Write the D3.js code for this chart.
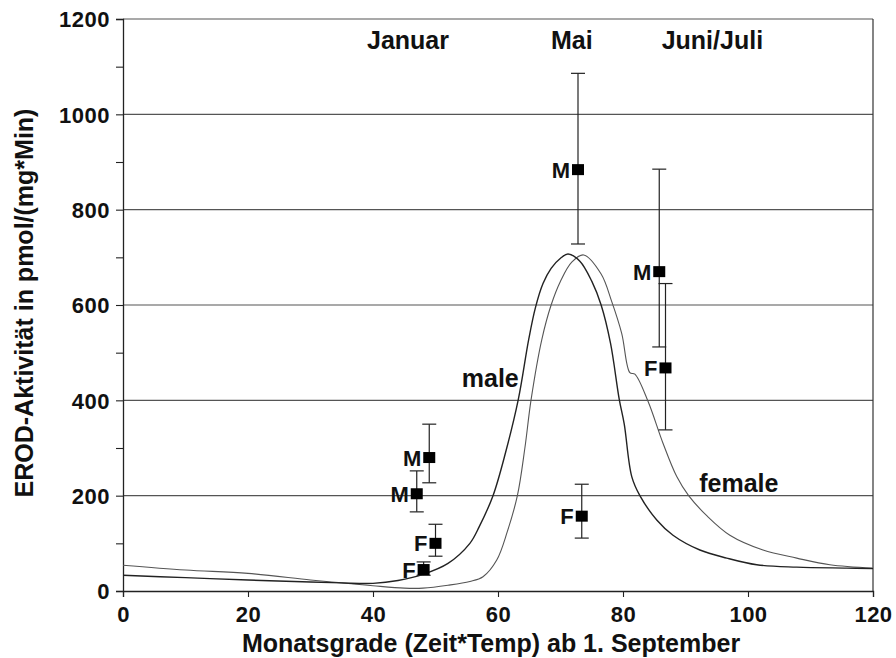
<!DOCTYPE html>
<html>
<head>
<meta charset="utf-8">
<script src="https://cdn.jsdelivr.net/npm/d3@7"></script>
<style>
body { margin: 0; background: #fff; }
text { font-family: "Liberation Sans", Arial, sans-serif; font-weight: bold; fill: #111; }
</style>
</head>
<body>
<svg id="chart" width="896" height="658"></svg>
<script>
// fitted curves
let maleX = [0, 10, 20, 30, 35, 40, 44, 48, 52, 55.5, 57, 59.2, 61.2, 63.25, 64.9, 66, 67.2, 68.5, 70, 71.2, 73.1, 75, 76.5, 78, 79.4, 80.2, 81.4, 82.7, 85.4, 88, 92.3, 96.6, 101.4, 107.8, 115.8, 120];
let maleY = [33, 28, 23, 19, 17, 16, 22, 35, 58, 100, 135, 200, 290, 402, 527, 595, 645, 677, 698, 707, 692, 650, 600, 520, 402, 350, 240, 200, 149, 117, 86, 69, 55, 50, 48, 47];
let femaleX = [0, 10, 20, 30, 35, 40, 45, 48, 52, 55.5, 57.6, 59.8, 61.5, 63.1, 64.3, 65.3, 67, 68.5, 70, 71.8, 73.7, 76.5, 78.2, 79.8, 81.1, 81.9, 84, 86.4, 88.6, 90.5, 93.4, 97.1, 102.4, 107.8, 113.1, 120];
let femaleY = [54, 44, 37, 23, 17, 11, 6, 6, 12, 20, 30, 65, 125, 200, 300, 402, 527, 600, 650, 690, 705, 665, 607, 540, 458, 455, 398, 310, 240, 200, 158, 117, 86, 69, 55, 48];

// measured means with error bars
let pointLabel = ["M", "M", "F", "F", "M", "F", "M", "F"];
let pointX = [49, 47, 50, 48.1, 72.8, 73.4, 85.8, 86.8];
let pointY = [280, 204, 100, 45, 884, 157, 670, 468];
let errTop = [350, 252, 140, 61, 1086, 224, 885, 645];
let errBottom = [227, 166, 73, 33, 728, 111, 512, 338];

let monthNames = ["Januar", "Mai", "Juni/Juli"];
let monthX = [45.6, 71.8, 94.3];

let xTicks = [0, 20, 40, 60, 80, 100, 120];
let yTicks = [0, 200, 400, 600, 800, 1000, 1200];
let yMinorTicks = [100, 300, 500, 700, 900, 1100];

function drawChart()
{
	let svg = d3.select("#chart");

	let x = d3.scaleLinear().domain([0, 120]).range([123, 873]);
	let y = d3.scaleLinear().domain([0, 1200]).range([591, 19]);

	// horizontal grid
	svg.append("g").selectAll("line").data(yTicks.slice(1)).enter().append("line")
		.attr("x1", x(0)).attr("x2", x(120))
		.attr("y1", function(d) { return y(d); }).attr("y2", function(d) { return y(d); })
		.attr("stroke", "#555").attr("stroke-width", 1.1);

	// right border
	svg.append("line").attr("x1", x(120)).attr("x2", x(120)).attr("y1", y(0)).attr("y2", y(1200))
		.attr("stroke", "#333").attr("stroke-width", 1.2);

	// axes
	let xAxis = d3.axisBottom(x).tickValues(xTicks).tickSize(6).tickPadding(9).tickFormat(d3.format("d"));
	let gx = svg.append("g").attr("transform", "translate(0," + y(0) + ")").call(xAxis);
	gx.selectAll("text").style("font-size", "22px").style("letter-spacing", "0.5px").attr("fill", "#111");

	let yAxis = d3.axisLeft(y).tickValues(yTicks).tickSize(7).tickPadding(6).tickFormat(d3.format("d"));
	let gy = svg.append("g").attr("transform", "translate(" + x(0) + ",0)").call(yAxis);
	gy.selectAll("text").style("font-size", "22px").style("letter-spacing", "0.5px").attr("fill", "#111").attr("dy", "0.36em");

	svg.append("g").attr("transform", "translate(" + x(0) + ",0)")
		.call(d3.axisLeft(y).tickValues(yMinorTicks).tickSize(7).tickFormat(""))
		.select(".domain").remove();

	svg.selectAll(".domain").attr("stroke", "#222").attr("stroke-width", 1.3);
	svg.selectAll(".tick line").attr("stroke", "#222").attr("stroke-width", 1.1);

	// curves
	let line = d3.line().curve(d3.curveCatmullRom.alpha(0.5))
		.x(function(d) { return x(d[0]); })
		.y(function(d) { return y(d[1]); });

	let maleData = d3.zip(maleX, maleY);
	let femaleData = d3.zip(femaleX, femaleY);

	svg.append("path").datum(femaleData).attr("d", line)
		.attr("fill", "none").attr("stroke", "#555").attr("stroke-width", 1.1);
	svg.append("path").datum(maleData).attr("d", line)
		.attr("fill", "none").attr("stroke", "#222").attr("stroke-width", 1.4);

	// error bars and markers
	let pts = d3.range(pointX.length).map(function(i) {
		return {label: pointLabel[i], x: pointX[i], y: pointY[i], top: errTop[i], bottom: errBottom[i]};
	});

	let g = svg.append("g").selectAll("g").data(pts).enter().append("g");

	g.append("line")
		.attr("x1", function(d) { return x(d.x); }).attr("x2", function(d) { return x(d.x); })
		.attr("y1", function(d) { return y(d.top); }).attr("y2", function(d) { return y(d.bottom); })
		.attr("stroke", "#222").attr("stroke-width", 1.2);
	g.append("line")
		.attr("x1", function(d) { return x(d.x) - 7; }).attr("x2", function(d) { return x(d.x) + 7; })
		.attr("y1", function(d) { return y(d.top); }).attr("y2", function(d) { return y(d.top); })
		.attr("stroke", "#222").attr("stroke-width", 1.2);
	g.append("line")
		.attr("x1", function(d) { return x(d.x) - 7; }).attr("x2", function(d) { return x(d.x) + 7; })
		.attr("y1", function(d) { return y(d.bottom); }).attr("y2", function(d) { return y(d.bottom); })
		.attr("stroke", "#222").attr("stroke-width", 1.2);

	g.append("rect")
		.attr("x", function(d) { return x(d.x) - 6; }).attr("y", function(d) { return y(d.y) - 5.5; })
		.attr("width", 12).attr("height", 11).attr("fill", "#000");

	g.append("text")
		.attr("x", function(d) { return x(d.x) - 8; }).attr("y", function(d) { return y(d.y) + 8; })
		.attr("text-anchor", "end").style("font-size", "22px")
		.text(function(d) { return d.label; });

	// month labels
	svg.append("g").selectAll("text").data(monthNames).enter().append("text")
		.attr("x", function(d, i) { return x(monthX[i]); }).attr("y", 49)
		.attr("text-anchor", "middle").style("font-size", "25px")
		.text(function(d) { return d; });

	// curve labels
	svg.append("text").attr("x", x(54.2)).attr("y", y(400) - 13).style("font-size", "25px").text("male");
	svg.append("text").attr("x", x(92.2)).attr("y", y(200) - 4).style("font-size", "25px").text("female");

	// axis titles
	svg.append("text").attr("x", 491).attr("y", 652)
		.attr("text-anchor", "middle").style("font-size", "25px")
		.text("Monatsgrade (Zeit*Temp) ab 1. September");

	svg.append("text").attr("transform", "translate(33," + 303 + ") rotate(-90)")
		.attr("text-anchor", "middle").style("font-size", "25px")
		.text("EROD-Aktivität in pmol/(mg*Min)");
}

drawChart();
</script>
</body>
</html>
